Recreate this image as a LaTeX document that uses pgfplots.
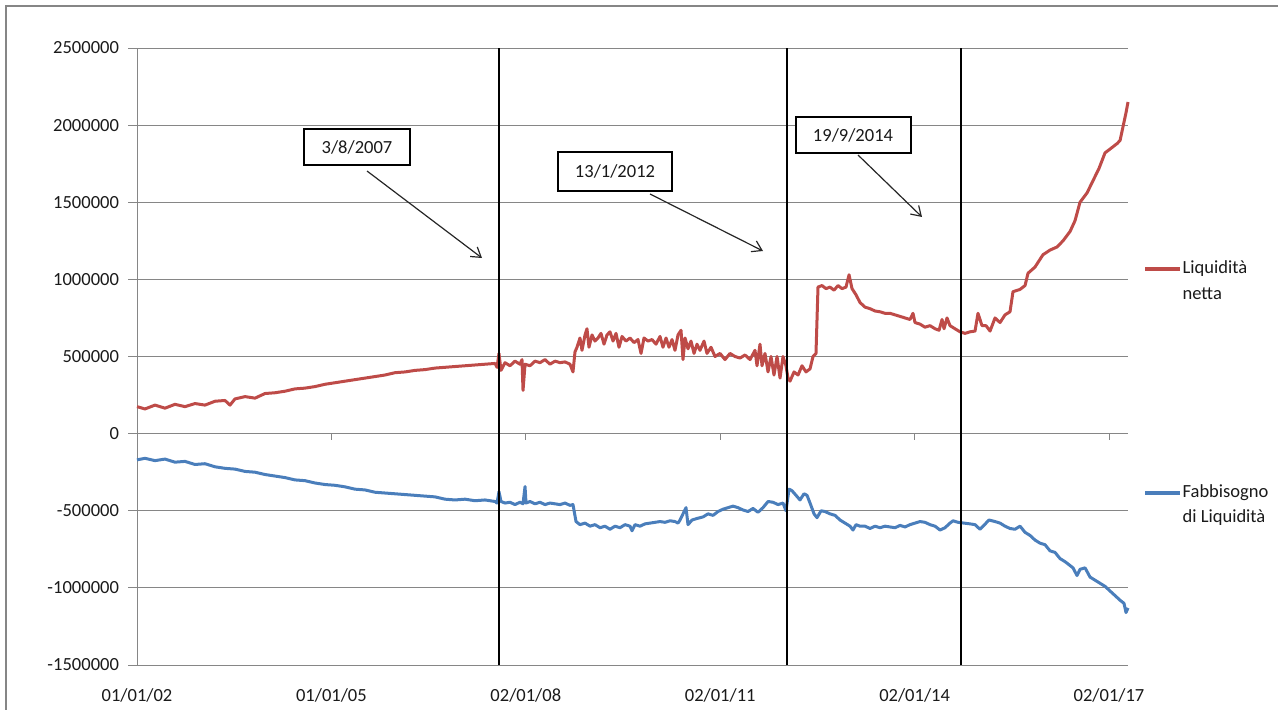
\documentclass[border=0pt]{standalone}
\usepackage{pgfplots}
\pgfplotsset{compat=1.18}
\usepackage{fontspec}
\setmainfont{Carlito}
\usetikzlibrary{arrows.meta}
\definecolor{redline}{HTML}{BE4B48}
\definecolor{blueline}{HTML}{4A7EBB}
\definecolor{gridgray}{HTML}{868686}
\definecolor{txt}{HTML}{1A1A1A}

\pgfplotstableread{
x y
2002.000 175000
2002.123 160000
2002.278 185000
2002.432 165000
2002.586 190000
2002.741 175000
2002.895 195000
2003.049 185000
2003.204 210000
2003.358 215000
2003.435 185000
2003.512 225000
2003.667 240000
2003.821 230000
2003.975 260000
2004.130 265000
2004.284 275000
2004.438 290000
2004.593 295000
2004.747 305000
2004.901 320000
2005.056 330000
2005.210 340000
2005.364 350000
2005.519 360000
2005.673 370000
2005.827 380000
2005.981 395000
2006.136 400000
2006.290 410000
2006.444 415000
2006.599 425000
2006.753 430000
2006.907 435000
2007.062 440000
2007.216 445000
2007.370 450000
2007.525 455000
2007.556 430000
2007.586 520000
2007.617 410000
2007.679 460000
2007.756 440000
2007.833 470000
2007.910 450000
2007.941 480000
2007.957 280000
2007.988 450000
2008.065 440000
2008.142 470000
2008.219 460000
2008.296 480000
2008.373 450000
2008.451 470000
2008.528 460000
2008.605 465000
2008.682 450000
2008.728 400000
2008.759 530000
2008.790 560000
2008.836 620000
2008.867 540000
2008.914 640000
2008.944 680000
2008.975 560000
2009.022 640000
2009.068 600000
2009.114 620000
2009.160 650000
2009.207 580000
2009.253 640000
2009.299 660000
2009.346 600000
2009.392 650000
2009.438 560000
2009.485 630000
2009.546 600000
2009.608 620000
2009.670 590000
2009.731 610000
2009.778 520000
2009.824 620000
2009.886 600000
2009.948 610000
2010.009 580000
2010.071 630000
2010.117 560000
2010.164 620000
2010.210 560000
2010.256 610000
2010.302 540000
2010.349 640000
2010.395 670000
2010.426 480000
2010.457 620000
2010.503 550000
2010.549 600000
2010.596 520000
2010.642 580000
2010.688 540000
2010.750 600000
2010.796 520000
2010.858 560000
2010.920 500000
2010.997 520000
2011.074 480000
2011.151 520000
2011.228 500000
2011.306 490000
2011.383 510000
2011.460 480000
2011.537 540000
2011.568 440000
2011.614 580000
2011.645 440000
2011.691 520000
2011.738 400000
2011.784 500000
2011.830 380000
2011.877 500000
2011.923 360000
2011.969 500000
2012.015 440000
2012.046 360000
2012.077 340000
2012.139 400000
2012.201 380000
2012.262 440000
2012.324 400000
2012.386 420000
2012.432 500000
2012.478 520000
2012.509 950000
2012.571 960000
2012.633 940000
2012.694 950000
2012.756 930000
2012.818 960000
2012.880 940000
2012.941 950000
2012.988 1030000
2013.034 940000
2013.096 900000
2013.157 850000
2013.235 820000
2013.312 810000
2013.389 795000
2013.466 790000
2013.543 780000
2013.620 780000
2013.698 770000
2013.775 760000
2013.852 750000
2013.929 740000
2013.975 780000
2014.006 720000
2014.083 710000
2014.160 690000
2014.238 700000
2014.315 680000
2014.377 670000
2014.423 740000
2014.454 680000
2014.500 750000
2014.546 700000
2014.623 680000
2014.701 660000
2014.778 650000
2014.855 660000
2014.932 665000
2014.978 780000
2015.040 700000
2015.102 700000
2015.164 665000
2015.241 750000
2015.318 720000
2015.395 770000
2015.472 790000
2015.518 920000
2015.627 935000
2015.704 960000
2015.750 1040000
2015.858 1080000
2015.981 1160000
2016.090 1190000
2016.197 1210000
2016.290 1250000
2016.398 1310000
2016.475 1380000
2016.552 1500000
2016.660 1560000
2016.753 1640000
2016.846 1720000
2016.938 1820000
2017.000 1840000
2017.062 1860000
2017.123 1880000
2017.170 1900000
2017.216 1990000
2017.262 2080000
2017.293 2150000
}\liquidita

\pgfplotstableread{
x y
2002.000 -170000
2002.123 -160000
2002.278 -175000
2002.432 -165000
2002.586 -185000
2002.741 -180000
2002.895 -200000
2003.049 -195000
2003.204 -215000
2003.358 -225000
2003.512 -230000
2003.667 -245000
2003.821 -250000
2003.975 -265000
2004.130 -275000
2004.284 -285000
2004.438 -300000
2004.593 -305000
2004.747 -320000
2004.901 -330000
2005.056 -335000
2005.210 -345000
2005.364 -360000
2005.519 -365000
2005.673 -380000
2005.827 -385000
2005.981 -390000
2006.136 -395000
2006.290 -400000
2006.444 -405000
2006.599 -410000
2006.753 -425000
2006.907 -430000
2007.062 -425000
2007.216 -435000
2007.370 -430000
2007.525 -440000
2007.556 -450000
2007.586 -376000
2007.617 -440000
2007.679 -450000
2007.756 -445000
2007.833 -460000
2007.910 -445000
2007.957 -455000
2007.988 -343000
2008.003 -450000
2008.065 -440000
2008.142 -455000
2008.219 -445000
2008.296 -460000
2008.373 -450000
2008.451 -455000
2008.528 -460000
2008.605 -450000
2008.682 -465000
2008.728 -460000
2008.775 -570000
2008.836 -590000
2008.914 -580000
2008.991 -600000
2009.068 -590000
2009.145 -610000
2009.222 -600000
2009.299 -620000
2009.377 -600000
2009.454 -610000
2009.531 -590000
2009.608 -600000
2009.639 -630000
2009.685 -590000
2009.762 -600000
2009.840 -585000
2009.917 -580000
2009.994 -575000
2010.071 -570000
2010.148 -575000
2010.225 -565000
2010.302 -570000
2010.349 -580000
2010.380 -560000
2010.472 -480000
2010.503 -590000
2010.565 -560000
2010.642 -550000
2010.735 -540000
2010.812 -520000
2010.889 -530000
2010.966 -505000
2011.043 -490000
2011.120 -480000
2011.198 -470000
2011.275 -480000
2011.352 -495000
2011.429 -505000
2011.506 -485000
2011.583 -510000
2011.660 -480000
2011.738 -440000
2011.815 -445000
2011.892 -460000
2011.969 -450000
2012.015 -500000
2012.062 -360000
2012.108 -370000
2012.170 -400000
2012.231 -430000
2012.293 -390000
2012.340 -400000
2012.386 -450000
2012.448 -520000
2012.494 -545000
2012.556 -500000
2012.617 -505000
2012.694 -520000
2012.772 -530000
2012.849 -560000
2012.926 -580000
2013.003 -600000
2013.049 -625000
2013.096 -590000
2013.157 -600000
2013.235 -600000
2013.312 -615000
2013.389 -600000
2013.466 -610000
2013.543 -600000
2013.620 -605000
2013.698 -610000
2013.775 -595000
2013.852 -605000
2013.929 -590000
2014.006 -580000
2014.083 -570000
2014.160 -575000
2014.238 -590000
2014.315 -600000
2014.392 -625000
2014.469 -610000
2014.546 -580000
2014.593 -565000
2014.670 -575000
2014.762 -580000
2014.855 -585000
2014.932 -590000
2015.009 -620000
2015.056 -600000
2015.148 -560000
2015.241 -570000
2015.318 -580000
2015.395 -600000
2015.472 -615000
2015.549 -620000
2015.627 -600000
2015.704 -640000
2015.781 -660000
2015.858 -690000
2015.935 -710000
2016.012 -720000
2016.090 -760000
2016.167 -770000
2016.244 -810000
2016.321 -830000
2016.383 -850000
2016.444 -870000
2016.506 -920000
2016.552 -880000
2016.630 -870000
2016.707 -930000
2016.784 -950000
2016.861 -970000
2016.938 -990000
2017.015 -1020000
2017.093 -1050000
2017.170 -1080000
2017.231 -1100000
2017.262 -1160000
2017.293 -1130000
}\fabbisogno

\begin{document}
\fontsize{13.9}{16.7}\selectfont
\begin{tikzpicture}
\begin{scope}[x=0.75pt,y=-0.75pt]
\path[use as bounding box] (0,0) rectangle (1278,710);
\draw[gridgray, line width=1pt] (6,710) -- (6,6) -- (1278,6);
\end{scope}
\begin{axis}[
  at={(102.75pt,-498.75pt)}, anchor=south west,
  scale only axis, width=743.25pt, height=462.75pt,
  xmin=2002, xmax=2017.293, ymin=-1500000, ymax=2500000,
  scaled y ticks=false, scaled x ticks=false,
  axis lines=left, axis line style={gridgray, line width=0.75pt, -},
  xtick={2002,2005,2008,2011,2014,2017},
  xticklabels={01/01/02,01/01/05,02/01/08,02/01/11,02/01/14,02/01/17},
  ytick={-1500000,-1000000,-500000,0,500000,1000000,1500000,2000000,2500000},
  yticklabels={-1500000,-1000000,-500000,0,500000,1000000,1500000,2000000,2500000},
  ymajorgrids, grid style={gridgray, line width=0.75pt},
  x tick style={draw=none},
  y tick style={gridgray, line width=0.75pt},
  tick align=outside, major tick length=6.75pt,
  ticklabel style={font=\fontsize{13.9}{16}\selectfont, text=txt},
  xticklabel style={yshift=-6pt},
  yticklabel style={xshift=-2pt},
  clip=false,
]
\addplot[redline, line width=2.25pt, line join=round] table[x=x,y=y] {\liquidita};
\addplot[blueline, line width=2.25pt, line join=round] table[x=x,y=y] {\fabbisogno};
\pgfplotsinvokeforeach{2005,2008,2011,2014,2017}{
  \draw[gridgray, line width=0.75pt] (axis cs:#1,0) -- ++(0pt,-4.5pt);
}
\draw[black, line width=1.3pt] (axis cs:2007.586,-1500000) -- (axis cs:2007.586,2500000);
\draw[black, line width=1.3pt] (axis cs:2012.033,-1500000) -- (axis cs:2012.033,2500000);
\draw[black, line width=1.3pt] (axis cs:2014.715,-1500000) -- (axis cs:2014.715,2500000);
\end{axis}
\begin{scope}[x=0.75pt,y=-0.75pt, text=txt]
\draw[black, line width=1.1pt, fill=white] (304,129) rectangle (410,165);
\node at (357,147) {3/8/2007};
\draw[black!85, line width=0.9pt, -{Straight Barb[length=7pt,width=9pt]}] (367,171) -- (482,258);
\draw[black, line width=1.1pt, fill=white] (558,152) rectangle (672,191);
\node at (615,171) {13/1/2012};
\draw[black!85, line width=0.9pt, -{Straight Barb[length=7pt,width=9pt]}] (650,194) -- (763,251);
\draw[black, line width=1.1pt, fill=white] (796,117) rectangle (911,153);
\node at (853,135) {19/9/2014};
\draw[black!85, line width=0.9pt, -{Straight Barb[length=7pt,width=9pt]}] (858,155) -- (922,217);
\draw[redline, line width=3pt] (1145,269) -- (1180,269);
\node[anchor=west, inner sep=1pt] at (1181,269) {Liquidità};
\node[anchor=west, inner sep=1pt] at (1181,294) {netta};
\draw[blueline, line width=3pt] (1145,493) -- (1180,493);
\node[anchor=west, inner sep=1pt] at (1181,493) {Fabbisogno};
\node[anchor=west, inner sep=1pt] at (1181,518) {di Liquidità};
\end{scope}
\end{tikzpicture}
\end{document}
